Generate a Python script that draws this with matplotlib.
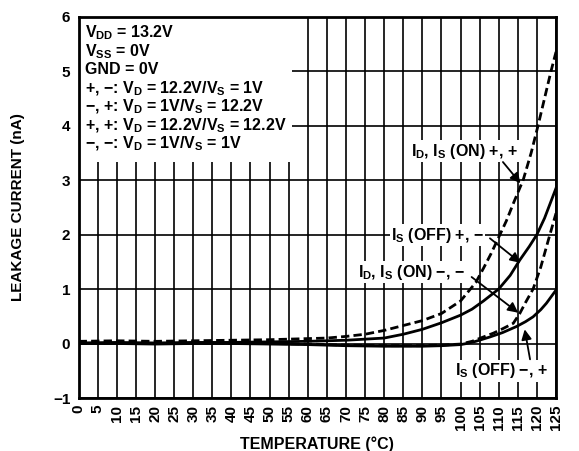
import matplotlib
matplotlib.use('Agg')
import matplotlib.pyplot as plt
from matplotlib.patches import Rectangle

plt.rcParams['font.family'] = ['Liberation Sans', 'DejaVu Sans']
plt.rcParams['font.weight'] = 'bold'
plt.rcParams['axes.labelweight'] = 'bold'
plt.rcParams['font.size'] = 10
plt.rcParams['mathtext.fontset'] = 'custom'
plt.rcParams['mathtext.rm'] = 'Liberation Sans:bold'
plt.rcParams['mathtext.it'] = 'Liberation Sans:bold'
plt.rcParams['mathtext.bf'] = 'Liberation Sans:bold'

# ID, IS (ON) +, +  (dashed)
t_on_pp = [0, 10, 20, 30, 40, 50, 60, 65, 70, 75, 80, 85, 90, 95, 100, 102, 104, 106, 108,
           110, 112, 114, 116.4, 118.5, 120.3, 122, 123.7, 125]
i_on_pp = [0.04, 0.05, 0.04, 0.05, 0.06, 0.07, 0.09, 0.1, 0.13, 0.17, 0.24, 0.33, 0.42, 0.55, 0.78, 0.95,
           1.12, 1.38, 1.65, 1.95, 2.25, 2.6, 3.0, 3.5, 4.0, 4.5, 5.0, 5.35]

# IS (OFF) +, -  (solid)
t_off_pm = [0, 10, 20, 30, 40, 50, 60, 65, 70, 75, 80, 85, 90, 95, 100, 103, 106, 110, 113,
            115.5, 118, 120, 122, 125]
i_off_pm = [0.01, 0.02, 0.01, 0.02, 0.02, 0.03, 0.04, 0.05, 0.06, 0.08, 0.1, 0.17, 0.26, 0.38, 0.52,
            0.63, 0.78, 1.0, 1.25, 1.53, 1.78, 2.0, 2.3, 2.85]

# ID, IS (ON) -, -  (dashed)
t_on_mm = [0, 10, 20, 30, 40, 50, 60, 70, 80, 90, 95, 100, 103, 106, 108.6, 111, 113.8, 115.5,
           117, 119, 121, 123, 125]
i_on_mm = [0.0, 0.01, 0.0, 0.01, 0.0, 0.0, -0.01, -0.03, -0.04, -0.04, -0.03, -0.01, 0.04, 0.12,
           0.19, 0.27, 0.37, 0.55, 0.75, 1.0, 1.4, 1.9, 2.39]

# IS (OFF) -, +  (solid)
t_off_mp = [0, 10, 20, 30, 40, 50, 60, 70, 80, 90, 95, 100, 101.6, 104, 107.7, 111, 114.6, 117,
            119, 121, 122.5, 125]
i_off_mp = [0.0, 0.0, -0.01, 0.0, 0.0, -0.01, -0.02, -0.04, -0.05, -0.05, -0.04, -0.02, 0.0, 0.04,
            0.12, 0.2, 0.31, 0.4, 0.49, 0.62, 0.74, 0.98]

x_ticks = list(range(0, 130, 5))
y_ticks = [-1, 0, 1, 2, 3, 4, 5, 6]
y_tick_labels = ['\u22121', '0', '1', '2', '3', '4', '5', '6']

conditions = [
    r'$V_{DD}$ = 13.2V',
    r'$V_{SS}$ = 0V',
    'GND = 0V',
    '+, \u2212: $V_D$ = 12.2V/$V_S$ = 1V',
    '\u2212, +: $V_D$ = 1V/$V_S$ = 12.2V',
    '+, +: $V_D$ = 12.2V/$V_S$ = 12.2V',
    '\u2212, \u2212: $V_D$ = 1V/$V_S$ = 1V',
]

fig = plt.figure(figsize=(5.79, 4.51), dpi=100)
ax = fig.add_axes([0.1358, 0.1175, 0.8245, 0.8459])

ax.plot(t_on_pp, i_on_pp, color='black', lw=2, ls=(0, (3, 1.5)), zorder=2)
ax.plot(t_off_pm, i_off_pm, color='black', lw=2, zorder=2)
ax.plot(t_on_mm, i_on_mm, color='black', lw=2, ls=(0, (3, 1.5)), zorder=2)
ax.plot(t_off_mp, i_off_mp, color='black', lw=2, zorder=2)

ax.set_xlim(0, 125)
ax.set_ylim(-1, 6)
ax.set_xticks(x_ticks)
ax.set_xticklabels([str(v) for v in x_ticks], rotation=90, fontweight='bold', fontsize=11)
ax.set_yticks(y_ticks)
ax.set_yticklabels(y_tick_labels, fontweight='bold', fontsize=11)
ax.tick_params(length=0)
ax.tick_params(axis='y', pad=6)
ax.tick_params(axis='x', pad=5)
ax.set_axisbelow(True)
ax.grid(True, color='black', lw=1.2)
for s in ax.spines.values():
    s.set_linewidth(2)

ax.set_xlabel('TEMPERATURE (\u00b0C)', fontsize=11.5, fontweight='bold', labelpad=4)
ax.set_ylabel('LEAKAGE CURRENT (nA)', fontsize=11, fontweight='bold', labelpad=20)

# white box behind the test conditions
ax.add_patch(Rectangle((0, 3.33), 56, 2.67, facecolor='white', edgecolor='none', zorder=1))
for k, line in enumerate(conditions):
    ax.text(1.7, 5.62 - k * 0.341, line, fontsize=11.5, va='baseline', ha='left', zorder=3)

box = dict(facecolor='white', edgecolor='none', pad=1)
arrow = dict(arrowstyle='-|>', color='black', lw=1.3, mutation_scale=15, shrinkA=0, shrinkB=0)
fs = 11.5

ax.text(100.9, 3.53, r'$I_D$, $I_S$ (ON) +, +', fontsize=fs, ha='center', va='center', bbox=box, zorder=4)
ax.annotate('', xy=(115.7, 2.94), xytext=(111.1, 3.33), arrowprops=arrow, zorder=4)

ax.text(94.0, 1.99, '$I_S$ (OFF) +, \u2212', fontsize=fs, ha='center', va='center', bbox=box, zorder=4)
ax.annotate('', xy=(115.7, 1.48), xytext=(107.7, 1.93), arrowprops=arrow, zorder=4)

ax.text(87.1, 1.31, '$I_D$, $I_S$ (ON) \u2212, \u2212', fontsize=fs, ha='center', va='center', bbox=box, zorder=4)
ax.annotate('', xy=(115.1, 0.565), xytext=(102.9, 1.22), arrowprops=arrow, zorder=4)

ax.text(110.8, -0.5, '$I_S$ (OFF) \u2212, +', fontsize=fs, ha='center', va='center', bbox=box, zorder=4)
ax.annotate('', xy=(116.8, 0.26), xytext=(118.2, -0.29), arrowprops=arrow, zorder=4)

fig.savefig('out.png', dpi=100)
